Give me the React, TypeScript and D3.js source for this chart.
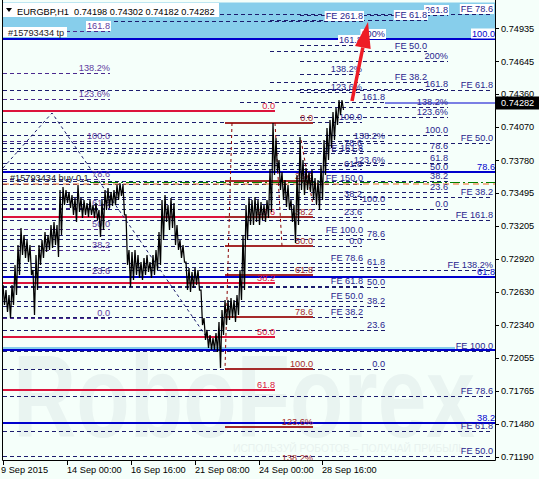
import React from "react";
import * as d3 from "d3";

const W = 539;
const H = 479;

// ---- price series (H1 bars, sampled every 3 bars) ----
const HIGHS = [
  0.72691, 0.72647, 0.72604, 0.72691, 0.72866, 0.73041, 0.73189, 0.73128, 0.73084, 0.73041,
  0.72822, 0.72953, 0.73041, 0.73084, 0.73154, 0.73128, 0.73215, 0.73242, 0.73215, 0.73521,
  0.73548, 0.73521, 0.73504, 0.73478, 0.73452, 0.73565, 0.73452, 0.73434, 0.73408, 0.73434,
  0.7339, 0.73408, 0.73347, 0.73434, 0.73521, 0.73539, 0.73504, 0.73521, 0.73565, 0.73583,
  0.73565, 0.73303, 0.72997, 0.72979, 0.72997, 0.72953, 0.72892, 0.72927, 0.72953, 0.72892,
  0.72953, 0.72997, 0.73154, 0.73434, 0.73478, 0.7339, 0.73452, 0.73408, 0.73215, 0.73084,
  0.73041, 0.72892, 0.7284, 0.72805, 0.7284, 0.72822, 0.72647, 0.72402, 0.72298, 0.72254,
  0.72228, 0.72271, 0.72368, 0.72472, 0.7256, 0.7256, 0.72577, 0.7256, 0.72604, 0.72822,
  0.73128, 0.7339, 0.73452, 0.73434, 0.7346, 0.73434, 0.73417, 0.7339, 0.73434, 0.73696,
  0.74107, 0.73976, 0.73784, 0.73679, 0.73609, 0.73565, 0.73434, 0.7339, 0.73653, 0.73985,
  0.73784, 0.73714, 0.73679, 0.73696, 0.73626, 0.73609, 0.7374, 0.73959, 0.74063, 0.74133,
  0.74203, 0.74238, 0.74308, 0.74308,
];
const LOWS = [
  0.72516, 0.72455, 0.72402, 0.72516, 0.72604, 0.72778, 0.72953, 0.72927, 0.72892, 0.72778,
  0.72429, 0.72647, 0.72866, 0.72927, 0.72979, 0.72997, 0.73014, 0.73041, 0.72936, 0.73128,
  0.7339, 0.73408, 0.73364, 0.73303, 0.73242, 0.73329, 0.73277, 0.73303, 0.73285, 0.73303,
  0.73277, 0.73259, 0.73111, 0.73172, 0.73347, 0.73364, 0.73382, 0.7339, 0.73434, 0.73469,
  0.73303, 0.72866, 0.72673, 0.72735, 0.72778, 0.72752, 0.72735, 0.72778, 0.72805, 0.72752,
  0.72778, 0.72822, 0.72866, 0.73084, 0.73242, 0.73172, 0.73189, 0.73041, 0.72997, 0.72927,
  0.72892, 0.72647, 0.7263, 0.72665, 0.72691, 0.72647, 0.72341, 0.7221, 0.7214, 0.72123,
  0.72123, 0.72105, 0.71965, 0.72254, 0.72341, 0.72385, 0.72402, 0.72368, 0.72429, 0.7256,
  0.72647, 0.73084, 0.73215, 0.73215, 0.73242, 0.73215, 0.73259, 0.73242, 0.73277, 0.73329,
  0.73653, 0.73679, 0.73521, 0.73434, 0.73373, 0.73347, 0.73242, 0.73058, 0.73215, 0.73521,
  0.73478, 0.73521, 0.73504, 0.73434, 0.7339, 0.73347, 0.73434, 0.73653, 0.73784, 0.73889,
  0.73959, 0.7409, 0.74177, 0.74221,
];
const SAMPLE_STEP = 3; // hours between samples
const LAST_OHLC = [0.74198, 0.74302, 0.74182, 0.74282];

// ---- axes ----
const PRICE_TICKS = [0.74935, 0.74645, 0.7436, 0.7407, 0.7378, 0.73495, 0.73205, 0.7292, 0.7263, 0.7234, 0.72055, 0.71765, 0.7148, 0.7119];
const TIME_TICKS = [0, 64, 128, 192, 256, 319];
const TIME_LABELS = ["9 Sep 2015", "14 Sep 00:00", "16 Sep 16:00", "21 Sep 08:00", "24 Sep 00:00", "28 Sep 16:00"];

// ---- fibonacci objects: [price at 0%, price at 100%] ----
const FIB_RED = [0.742147, 0.702633];
const FIB_BROWN = [0.741097, 0.71954];
const FIB_LEFT = [0.724068, 0.739524];
const FIB_MID = [0.730319, 0.741185];
const FIB_F4 = [0.71954, 0.733981];
const FIB_F5 = [0.733527, 0.740022];
const FIB_BLUE = [0.694127, 0.748371];
const FE_MID = [0.719723, 0.73128];
const FE_A = [0.719513, 0.759071];
const FE_B = [0.702694, 0.721166];
const FE_C = [0.735909, 0.758879];

const LV_BASE = [0, 23.6, 38.2, 50, 61.8, 78.6, 100, 123.6, 138.2, 161.8];
const LV_F4 = [...LV_BASE, 200];
const LV_F5 = [...LV_BASE, 200, 261.8];
const LV_RED = [0, 23.6, 38.2, 50, 61.8];
const LV_BROWN = [0, 23.6, 38.2, 50, 61.8, 78.6, 100, 123.6, 138.2];
const LV_BLUE = [38.2, 50, 61.8, 78.6, 100];
const LV_FE_MID = [38.2, 50, 61.8, 78.6, 100, 161.8, 261.8];
const LV_FE_A = [38.2, 50, 61.8, 78.6];
const LV_FE_B = [50, 61.8, 78.6, 100, 138.2, 161.8];
const LV_FE_C = [38.2, 50, 61.8];

// extra single level
const FE150_PRICE = 0.735739;

// bands (price ranges)
const BAND_TOP = [0.748476, 0.751605];
const BAND_LOW = [0.721183, 0.721489];

// order lines
const ORDER_BUY = 0.73587;
const ORDER_SL = 0.735739;

// trend lines [bar, price, bar, price]
const TREND_BROWN = [
  [229, 0.741071, 222, 0.719566],
  [272, 0.741071, 279, 0.730319],
  [298, 0.739585, 310, 0.733903],
];
const TREND_NAVY = [
  [0, 0.737137],
  [49, 0.741946],
  [209, 0.721664],
];
const ARROW = [349, 0.742995, 365, 0.749901];

const fmt = (p: number) =>
  p === 123.6 || p === 138.2 ? `${p}%` : p === 200 ? "200%" : p.toFixed(1);

const textW = (s: string) => {
  let w = 0;
  for (const c of s) {
    if (c === "." || c === " ") w += 2.6;
    else if (c === "%") w += 8.2;
    else if (c === "F") w += 5.6;
    else if (c === "E") w += 6.1;
    else w += 5.1;
  }
  return w;
};

export default function App() {
  const x = d3.scaleLinear().domain([0, 492]).range([3, 495]);
  const y = d3.scaleLinear().domain([0.711611, 0.751824]).range([460, 0]);

  const NAVY = "#1c1c6e";
  const NAVY_T = "#28248e";
  const PURP = "#4b2a8f";
  const PURP_T = "#5e3aa0";

  const fibs = [
    { a: FIB_LEFT, lv: LV_BASE, x1: 0, x1h: 0, x2: 107, pre: "", lc: PURP, tc: PURP_T, dash: "4,3", w: 1, skip: [] as number[] },
    { a: FIB_MID, lv: LV_BASE, x1: 0, x1h: 297, x2: 359, pre: "", lc: NAVY, tc: NAVY_T, dash: "4,3", w: 1, skip: [50] },
    { a: FIB_F4, lv: LV_F4, x1: 0, x1h: 237, x2: 382, pre: "", lc: NAVY, tc: NAVY_T, dash: "4,3", w: 1, skip: [] },
    { a: FIB_F5, lv: LV_F5, x1: 0, x1h: 297, x2: 445, pre: "", lc: NAVY, tc: NAVY_T, dash: "4,3", w: 1, skip: [] },
    { a: FE_MID, lv: LV_FE_MID, x1: 0, x1h: 97, x2: 360, pre: "FE ", lc: NAVY, tc: NAVY_T, dash: "4,3", w: 1, skip: [] },
    { a: FE_A, lv: LV_FE_A, x1: 0, x1h: 0, x2: 490, pre: "FE ", lc: NAVY, tc: NAVY_T, dash: "4,3", w: 1, skip: [] },
    { a: FE_B, lv: LV_FE_B, x1: 0, x1h: 0, x2: 490, pre: "FE ", lc: NAVY, tc: NAVY_T, dash: "4,3", w: 1, skip: [] },
    { a: FE_C, lv: LV_FE_C, x1: 267, x1h: 267, x2: 424, pre: "FE ", lc: NAVY, tc: NAVY_T, dash: "4,3", w: 1, skip: [] },
    { a: FIB_BLUE, lv: LV_BLUE, x1: 0, x1h: 0, x2: 492, pre: "", lc: "#0000cd", tc: "#0000cd", dash: undefined, w: 1.5, skip: [50] },
    { a: FIB_RED, lv: LV_RED, x1: 0, x1h: 0, x2: 272, pre: "", lc: "#dc143c", tc: "#dc143c", dash: undefined, w: 2, skip: [] },
    { a: FIB_BROWN, lv: LV_BROWN, x1: 222, x1h: 222, x2: 310, pre: "", lc: "#a52a2a", tc: "#a52a2a", dash: undefined, w: 2, skip: [] },
  ];

  const levelPrice = (a: number[], l: number) => a[0] + ((a[1] - a[0]) * l) / 100;

  const lines: any[] = [];
  const labels: any[] = [];
  fibs.forEach((f, fi) => {
    f.lv.forEach((l) => {
      const yy = Math.round(y(levelPrice(f.a, l))) + (f.w === 1 ? 0.5 : 0);
      const x1 = x(l > 100 ? f.x1h : f.x1);
      const x2 = x(f.x2);
      lines.push(
        <line key={`l${fi}-${l}`} x1={x1} x2={x2} y1={yy} y2={yy} stroke={f.lc}
          strokeWidth={f.w} strokeDasharray={f.dash} shapeRendering="crispEdges" />
      );
      if (!f.skip.includes(l)) {
        const txt = f.pre + fmt(l);
        labels.push({ key: `t${fi}-${l}`, x: x2, y: yy - 2.5, txt, c: f.tc });
      }
    });
  });
  labels.push({ key: "fe150", x: x(360), y: y(FE150_PRICE) - 2.5, txt: "FE 150.0", c: NAVY_T });

  const pricePts: [number, number][] = [];
  HIGHS.forEach((h, i) => {
    const bx = x(i * SAMPLE_STEP);
    pricePts.push([bx, y(h)]);
    pricePts.push([bx + 1.5, y(LOWS[i])]);
  });
  const pricePath = d3.line()(pricePts) || "";

  const navyPath = d3.line()(TREND_NAVY.map((p) => [x(p[0]), y(p[1])] as [number, number])) || "";

  // arrow geometry
  const ax1 = x(ARROW[0]), ay1 = y(ARROW[1]), ax2 = x(ARROW[2]), ay2 = y(ARROW[3]);
  const len = Math.hypot(ax2 - ax1, ay2 - ay1);
  const ux = (ax2 - ax1) / len, uy = (ay2 - ay1) / len;
  const hl = 26, hw = 8;
  const bx = ax2 - ux * hl, by = ay2 - uy * hl;
  const head = `M${ax2},${ay2} L${bx - uy * hw},${by + ux * hw} L${bx + uy * hw},${by - ux * hw} Z`;

  const last = LAST_OHLC[3];
  const yLast = y(last);

  return (
    <svg width={W} height={H} style={{ position: "absolute", left: 0, top: 0 }}
      fontFamily="'Liberation Sans', Arial, sans-serif" fontSize={9.2}>
      <defs>
        <clipPath id="plot">
          <rect x={3} y={0} width={492} height={460} />
        </clipPath>
      </defs>
      <rect width={W} height={H} fill="#F5FFFA" />

      <g clipPath="url(#plot)">
        {/* watermark */}
        <text x={13} y={437} fontSize={117} fontWeight="bold" fill="#e9f4f1"
          textLength={462} lengthAdjust="spacingAndGlyphs">RoboForex</text>
        <text x={233} y={452} fontSize={10} fill="#e8f2ef" textLength={232}
          lengthAdjust="spacingAndGlyphs">ИСПОЛЬЗУЙ РОБОТОВ – ПОЛУЧАЙ ПРИБЫЛЬ</text>

        {/* bands */}
        <rect x={x(0)} width={x(492) - x(0)} y={y(BAND_TOP[1])} height={y(BAND_TOP[0]) - y(BAND_TOP[1])} fill="#87ceeb" />
        <rect x={x(0)} width={x(452) - x(0)} y={y(BAND_LOW[1])} height={y(BAND_LOW[0]) - y(BAND_LOW[1])} fill="#87ceeb" />

        {lines}

        {/* order lines */}
        <line x1={x(0)} x2={x(492)} y1={y(ORDER_SL)} y2={y(ORDER_SL)} stroke="#f0641e" strokeWidth={1.2} strokeDasharray="6,4" />
        <line x1={x(87)} x2={x(492)} y1={y(ORDER_BUY)} y2={y(ORDER_BUY)} stroke="#008000" strokeWidth={1.2} strokeDasharray="10,3,2,3" />
        <line x1={x(382)} x2={x(492)} y1={yLast} y2={yLast} stroke="#0000cd" strokeWidth={1.2} />

        {/* trend lines */}
        {TREND_BROWN.map((t, i) => (
          <line key={`tb${i}`} x1={x(t[0])} y1={y(t[1])} x2={x(t[2])} y2={y(t[3])} stroke="#8b0000" strokeWidth={1} strokeDasharray="3,3" />
        ))}
        <path d={navyPath} fill="none" stroke={NAVY} strokeWidth={1} strokeDasharray="3,3" />

        {/* labels */}
        {labels.map((l) => (
          <g key={l.key}>
            {l.y < 44 && (
              <rect x={l.x - textW(l.txt) - 1} y={l.y - 8} width={textW(l.txt) + 2} height={10} fill="#ffffff" />
            )}
            <text x={l.x} y={l.y} textAnchor="end" fill={l.c}>{l.txt}</text>
          </g>
        ))}
        <rect x={3} y={27} width={64} height={10} fill="#ffffff" />
        <text x={8} y={35.5} fill="#222">#15793434 tp</text>
        <text x={10} y={181} fill="#222">#15793434 buy 0.1</text>

        {/* price */}
        <path d={pricePath} fill="none" stroke="#000" strokeWidth={1.25} strokeLinejoin="miter" />

        {/* arrow */}
        <line x1={ax1} y1={ay1} x2={bx} y2={by} stroke="#ee1c25" strokeWidth={3.5} />
        <path d={head} fill="#ee1c25" />

        {/* title */}
        <rect x={3} y={3} width={216} height={14} fill="#ffffff" />
        <path d="M6,8 L12,8 L9,12 Z" fill="#000" />
        <text x={17} y={14.5} fill="#000" style={{ whiteSpace: "pre" }}>
          {`EURGBP,H1  ${LAST_OHLC.map((v) => v.toFixed(5)).join(" ")}`}
        </text>
      </g>

      {/* frame */}
      <line x1={2.5} x2={2.5} y1={0} y2={460.5} stroke="#000" />
      <line x1={495.5} x2={495.5} y1={0} y2={460.5} stroke="#000" />
      <line x1={2.5} x2={495.5} y1={460.5} y2={460.5} stroke="#000" />

      {/* right axis */}
      {PRICE_TICKS.map((p) => (
        <g key={p}>
          <line x1={495} x2={499} y1={Math.round(y(p)) + 0.5} y2={Math.round(y(p)) + 0.5} stroke="#000" />
          <text x={501} y={y(p)} dy="0.35em" fill="#000">{p.toFixed(5)}</text>
        </g>
      ))}
      <rect x={496} y={yLast - 6.5} width={43} height={13} fill="#000" />
      <text x={501} y={yLast} dy="0.35em" fill="#fff">{last.toFixed(5)}</text>

      {/* bottom axis */}
      {TIME_TICKS.map((t, i) => (
        <g key={t}>
          <line x1={Math.round(x(t)) + 0.5} x2={Math.round(x(t)) + 0.5} y1={460} y2={465} stroke="#000" />
          <text x={x(t) - (i === 0 ? 2 : 0)} y={473} fill="#000">{TIME_LABELS[i]}</text>
        </g>
      ))}
    </svg>
  );
}
